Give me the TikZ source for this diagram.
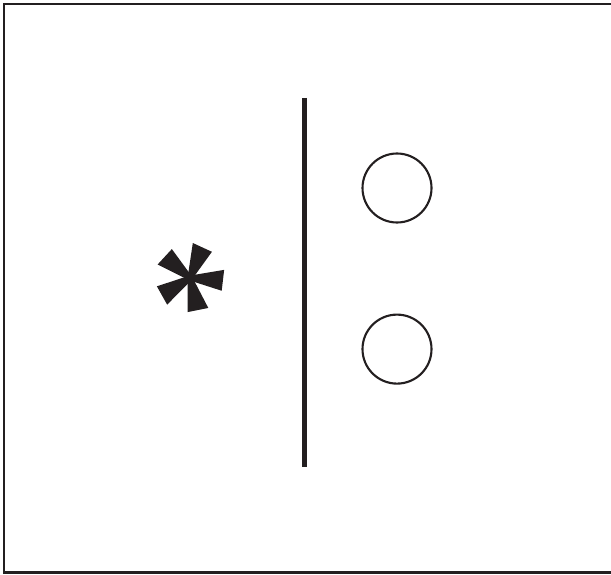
\documentclass[tikz,border=0pt]{standalone}
\usepackage{tikz}
\usetikzlibrary{positioning}
\definecolor{inkblack}{HTML}{231F20}

\begin{document}
\begin{tikzpicture}[
                frame/.style={draw=inkblack, line width=1.4pt},
                bar/.style={draw=inkblack, line width=2.6pt},
                ring/.style={
                        draw=inkblack, circle, line width=1.2pt,
                        minimum size=1.38cm, inner sep=0pt
                    },
                petal/.style={fill=inkblack}
                ]
                \useasboundingbox (0,0) rectangle (12.22,11.48);
                \draw[frame] (0.08,0.03) rectangle (12.40,11.40);

                \coordinate (bartop) at (6.09,9.52);
                \coordinate (barbot) at (6.09,2.14);
                \draw[bar] (bartop) -- (barbot);

                \node[ring] (upper) at (7.94,7.72) {};
                \node[ring, below=1.80cm of upper] (lower) {};

                % five wedge arms of the star
                \coordinate (star) at (3.80,5.92);
                \foreach \a in {68,-4,-76,-148,140}
                    \fill[petal, shift={(star)}, rotate=\a]
                        (0,-0.05) -- (0.65,-0.21) -- (0.67,0.21) -- (0,0.05) -- cycle;
            \end{tikzpicture}
\end{document}
